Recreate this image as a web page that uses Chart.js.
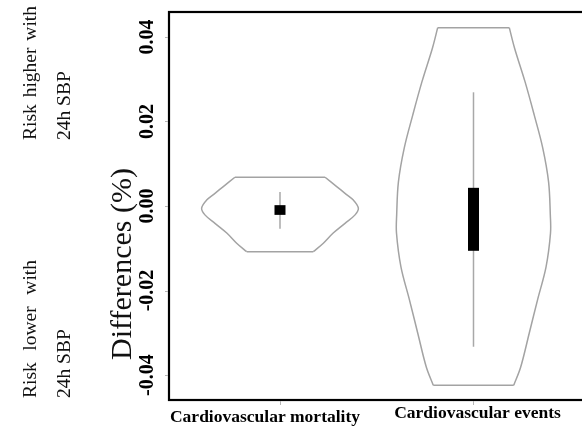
<!DOCTYPE html>
<html>
  <head>
    <meta charset="utf-8">
    <style type="text/css">
    body { margin: 0; background: #ffffff; }
    .chart-container { width: 582px; height: 435px; overflow: hidden; }
    </style>
  </head>
  <body>
    <script src="https://cdn.jsdelivr.net/npm/chart.js@4.4.1/dist/chart.umd.min.js"></script>

    <div class="chart-container">
      <canvas id="myChart" width="588" height="435"></canvas>
    </div>

    <script>
      /* datas */
      const categories = ['Cardiovascular mortality', 'Cardiovascular events'];

      // violin outlines : level (difference) and half width of the density at that level
      const mortalityLevels = [0.0068, 0.0046, 0.0030, 0.0014, -0.0005, -0.0021, -0.0041, -0.0064, -0.0088, -0.0108];
      const mortalityHalfWidths = [0.233, 0.293, 0.336, 0.379, 0.405, 0.388, 0.336, 0.275, 0.224, 0.172];
      const eventsLevels = [0.0422, 0.0374, 0.0293, 0.0215, 0.0137, 0.0057, -0.0021, -0.0064, -0.0144, -0.0222, -0.0301, -0.0381, -0.0424];
      const eventsHalfWidths = [0.185, 0.212, 0.267, 0.314, 0.358, 0.388, 0.397, 0.398, 0.375, 0.331, 0.288, 0.244, 0.208];

      // inner boxplots
      const whiskerLow = [-0.0054, -0.0333];
      const whiskerHigh = [0.0033, 0.0269];
      const boxLow = [-0.0021, -0.0106];
      const boxHigh = [0.0002, 0.0043];

      const yTickValues = [-0.04, -0.02, 0, 0.02, 0.04];
      const yTickLabels = ['-0.04', '-0.02', '0.00', '0.02', '0.04'];

      const outlineColor = '#a3a3a3';

      /* build the outline points from the arrays */
      function sidePoints(center, levels, halfWidths) {
        const right = levels.map((v, i) => ({x: center + halfWidths[i], y: v}));
        const left = levels.map((v, i) => ({x: center - halfWidths[i], y: v})).reverse();
        return right.concat([{x: center, y: NaN}], left);
      }
      function capPoints(center, levels, halfWidths) {
        const n = levels.length - 1;
        return [
          {x: center - halfWidths[0], y: levels[0]},
          {x: center + halfWidths[0], y: levels[0]},
          {x: center, y: NaN},
          {x: center + halfWidths[n], y: levels[n]},
          {x: center - halfWidths[n], y: levels[n]}
        ];
      }

      const violins = [
        {center: 1, levels: mortalityLevels, halfWidths: mortalityHalfWidths},
        {center: 2, levels: eventsLevels, halfWidths: eventsHalfWidths}
      ];

      // chart.js paints dataset 0 last (on top), so the box goes first
      const datasets = [];
      violins.forEach((v, i) => {
        datasets.push({
          label: categories[i] + ' box',
          data: [{x: v.center, y: boxLow[i]}, {x: v.center, y: boxHigh[i]}],
          borderColor: '#000000', borderWidth: 11, borderCapStyle: 'butt',
          pointRadius: 0, fill: false
        });
        datasets.push({
          label: categories[i] + ' whisker',
          data: [{x: v.center, y: whiskerLow[i]}, {x: v.center, y: whiskerHigh[i]}],
          borderColor: '#a8a8a8', borderWidth: 1.5, pointRadius: 0, fill: false
        });
        datasets.push({
          label: categories[i] + ' density',
          data: sidePoints(v.center, v.levels, v.halfWidths),
          borderColor: outlineColor, borderWidth: 1.5, tension: 0.35,
          pointRadius: 0, fill: false, spanGaps: false
        });
        datasets.push({
          label: categories[i] + ' ends',
          data: capPoints(v.center, v.levels, v.halfWidths),
          borderColor: outlineColor, borderWidth: 1.5, tension: 0,
          pointRadius: 0, fill: false, spanGaps: false
        });
      });

      /* rotated text, reading bottom to top, optionally stretched to a length */
      function rotatedText(ctx, text, x, y, font, align, stretchTo) {
        ctx.save();
        ctx.translate(x, y);
        ctx.rotate(-Math.PI / 2);
        ctx.font = font;
        ctx.textBaseline = 'alphabetic';
        if (stretchTo) {
          const words = text.split(' ');
          const widths = words.map(w => ctx.measureText(w).width);
          const total = widths.reduce((a, b) => a + b, 0);
          const gap = (stretchTo - total) / (words.length - 1);
          let pos = 0;
          ctx.textAlign = 'left';
          words.forEach((w, i) => {
            ctx.fillText(w, pos, 0);
            pos += widths[i] + gap;
          });
        } else {
          ctx.textAlign = align;
          ctx.fillText(text, 0, 0);
        }
        ctx.restore();
      }

      const decorations = {
        id: 'decorations',
        afterDraw(chart) {
          const ctx = chart.ctx;
          const area = chart.chartArea;
          const xs = chart.scales.x;
          const ys = chart.scales.y;

          // frame
          ctx.save();
          ctx.strokeStyle = '#000000';
          ctx.lineWidth = 2.2;
          ctx.strokeRect(area.left, area.top, area.right - area.left, area.bottom - area.top);

          // tick marks
          ctx.strokeStyle = '#b5b5b5';
          ctx.lineWidth = 1;
          yTickValues.forEach(v => {
            const py = Math.round(ys.getPixelForValue(v)) + 0.5;
            ctx.beginPath();
            ctx.moveTo(area.left - 4, py);
            ctx.lineTo(area.left - 1, py);
            ctx.stroke();
          });
          violins.forEach(v => {
            const px = Math.round(xs.getPixelForValue(v.center)) + 0.5;
            ctx.beginPath();
            ctx.moveTo(px, area.bottom + 1);
            ctx.lineTo(px, area.bottom + 5);
            ctx.stroke();
          });

          // y tick labels
          ctx.fillStyle = '#000000';
          yTickValues.forEach((v, i) => {
            rotatedText(ctx, yTickLabels[i], 153, ys.getPixelForValue(v), 'bold 20px "Liberation Serif"', 'center');
          });

          // category labels
          const labelShift = [-15, 4];
          const labelBase = [422, 418];
          ctx.font = 'bold 17.5px "Liberation Serif"';
          ctx.textAlign = 'center';
          ctx.textBaseline = 'alphabetic';
          categories.forEach((c, i) => {
            ctx.fillText(c, xs.getPixelForValue(violins[i].center) + labelShift[i], labelBase[i]);
          });

          // axis title and side notes
          ctx.fillStyle = '#111111';
          rotatedText(ctx, 'Differences (%)', 131, 264, '30px "Liberation Serif"', 'center');
          rotatedText(ctx, 'Risk higher with', 36, 140, '19.5px "Liberation Serif"', 'left', 134);
          rotatedText(ctx, '24h SBP', 70, 140, '19.5px "Liberation Serif"', 'left');
          rotatedText(ctx, 'Risk lower with', 36, 398, '19.5px "Liberation Serif"', 'left', 138);
          rotatedText(ctx, '24h SBP', 70, 398, '19.5px "Liberation Serif"', 'left');
          ctx.restore();
        }
      };

      /* create our chart */
      const myChart = new Chart('myChart', {
        type: 'line',
        data: { datasets: datasets },
        options: {
          responsive: false,
          animation: false,
          events: [],
          layout: { padding: { left: 169, top: 12, right: 2, bottom: 35 } },
          plugins: {
            legend: { display: false },
            tooltip: { enabled: false }
          },
          scales: {
            x: { type: 'linear', display: false, min: 0.4264, max: 2.5814 },
            y: { type: 'linear', display: false, min: -0.0459, max: 0.0459 }
          }
        },
        plugins: [decorations]
      });
    </script>
  </body>
</html>
